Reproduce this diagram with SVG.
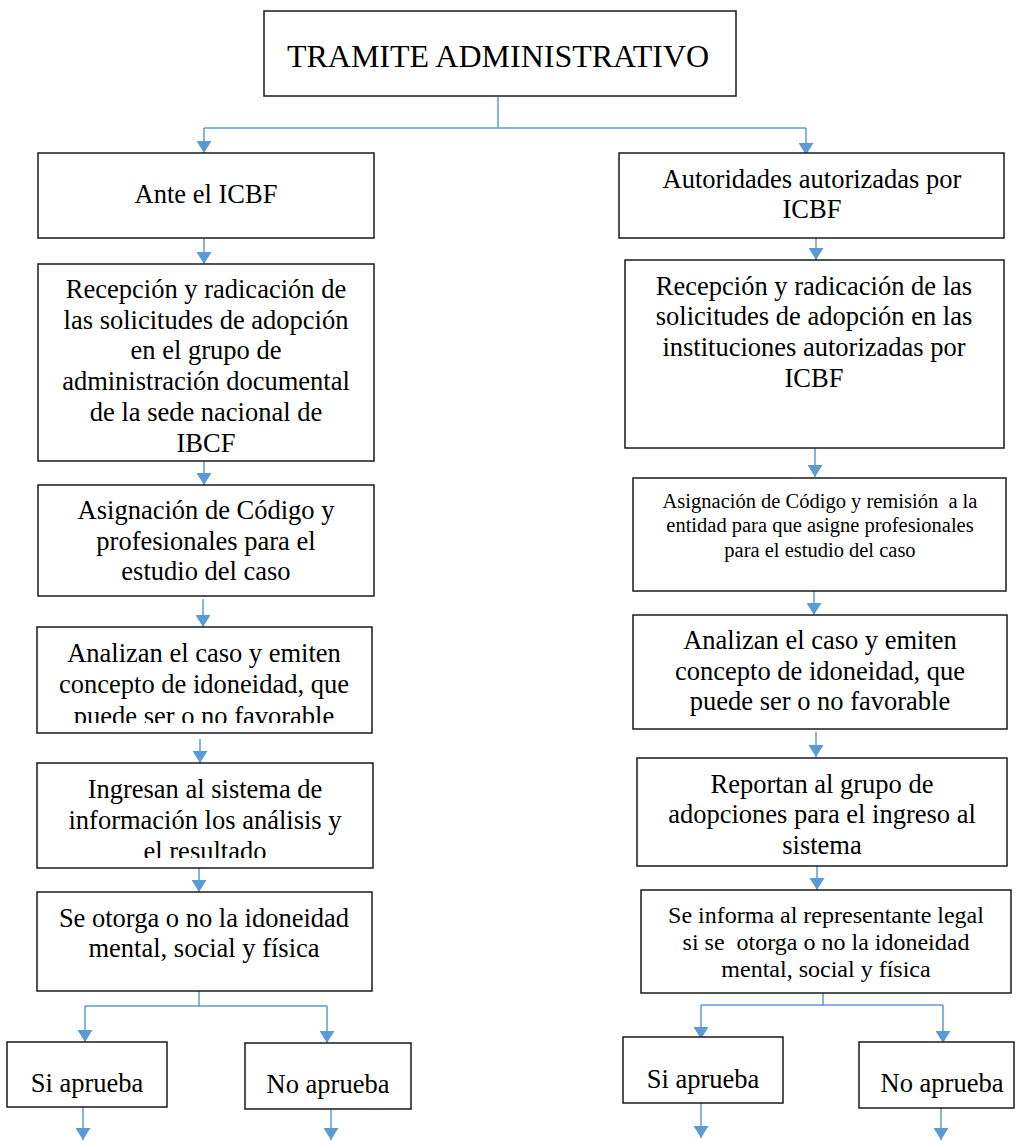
<svg xmlns="http://www.w3.org/2000/svg" width="1016" height="1140" viewBox="0 0 1016 1140">
<style>
.box{fill:#fff;stroke:#1a1a1a;stroke-width:1.5}
.t{font-family:"Liberation Serif","Times New Roman",serif;font-size:26.5px;fill:#000;text-anchor:middle}
.title{font-size:32px}
.sm{font-size:20.5px}
.md{font-size:24px}
.c{stroke:#5B9BD5;stroke-width:1.5;fill:none}
.a{stroke:#5B9BD5;stroke-width:1.5;fill:none;marker-end:url(#ah)}
</style>
<defs>
<marker id="ah" markerUnits="userSpaceOnUse" markerWidth="12" markerHeight="15" refX="12" refY="7.5" orient="auto" viewBox="0 0 12 15">
<path d="M0,0 L12,7.5 L0,15 z" fill="#5B9BD5"/>
</marker>
<clipPath id="clipA"><rect x="37" y="627" width="335" height="96"/></clipPath>
<clipPath id="clipI"><rect x="37" y="763" width="336" height="95"/></clipPath>
</defs>
<rect width="1016" height="1140" fill="#fff"/>

<g id="connectors">
<line class="c" x1="498" y1="97" x2="498" y2="128"/>
<line class="c" x1="204" y1="128" x2="806" y2="128"/>
<line class="a" x1="204" y1="128" x2="204" y2="153"/>
<line class="a" x1="806" y1="128" x2="806" y2="155"/>
<line class="a" x1="204" y1="238" x2="204" y2="264"/>
<line class="a" x1="204" y1="461" x2="204" y2="485"/>
<line class="a" x1="203" y1="599" x2="203" y2="627"/>
<line class="a" x1="200" y1="739" x2="200" y2="763"/>
<line class="a" x1="199" y1="868" x2="199" y2="892"/>
<line class="c" x1="199" y1="991" x2="199" y2="1006"/>
<line class="c" x1="85" y1="1006" x2="327" y2="1006"/>
<line class="a" x1="85" y1="1006" x2="85" y2="1042"/>
<line class="a" x1="327" y1="1006" x2="327" y2="1043"/>
<line class="a" x1="83" y1="1107" x2="83" y2="1140"/>
<line class="a" x1="331" y1="1109" x2="331" y2="1140"/>
<line class="a" x1="816" y1="238" x2="816" y2="260"/>
<line class="a" x1="815" y1="448" x2="815" y2="477"/>
<line class="a" x1="814" y1="591" x2="814" y2="615"/>
<line class="a" x1="816" y1="732" x2="816" y2="757"/>
<line class="a" x1="817" y1="866" x2="817" y2="890"/>
<line class="c" x1="823" y1="993" x2="823" y2="1006"/>
<line class="c" x1="701" y1="1005" x2="943" y2="1005"/>
<line class="a" x1="701" y1="1005" x2="701" y2="1039"/>
<line class="a" x1="943" y1="1005" x2="943" y2="1043"/>
<line class="a" x1="701" y1="1103" x2="701" y2="1138"/>
<line class="a" x1="941" y1="1108" x2="941" y2="1140"/>
</g>

<g id="n-title">
<rect class="box" x="264" y="11" width="472" height="85"/>
<text class="t title" x="498" y="67">TRAMITE ADMINISTRATIVO</text>
</g>

<g id="n-ante">
<rect class="box" x="38" y="153" width="336" height="85"/>
<text class="t" x="206" y="203">Ante el ICBF</text>
</g>

<g id="n-recepcion-l">
<rect class="box" x="38" y="264" width="336" height="197"/>
<text class="t" x="206" y="298">Recepción y radicación de</text>
<text class="t" x="206" y="329">las solicitudes de adopción</text>
<text class="t" x="206" y="359">en el grupo de</text>
<text class="t" x="206" y="390">administración documental</text>
<text class="t" x="206" y="421">de la sede nacional de</text>
<text class="t" x="206" y="452">IBCF</text>
</g>

<g id="n-asignacion-l">
<rect class="box" x="38" y="485" width="336" height="111"/>
<text class="t" x="206" y="519">Asignación de Código y</text>
<text class="t" x="206" y="550">profesionales para el</text>
<text class="t" x="206" y="580">estudio del caso</text>
</g>

<g id="n-analizan-l">
<rect class="box" x="37" y="627" width="335" height="106"/>
<g clip-path="url(#clipA)">
<text class="t" x="204" y="662">Analizan el caso y emiten</text>
<text class="t" x="204" y="693">concepto de idoneidad, que</text>
<text class="t" x="204" y="725">puede ser o no favorable</text>
</g>
</g>

<g id="n-ingresan">
<rect class="box" x="37" y="763" width="336" height="105"/>
<g clip-path="url(#clipI)">
<text class="t" x="205" y="798">Ingresan al sistema de</text>
<text class="t" x="205" y="829">información los análisis y</text>
<text class="t" x="205" y="860">el resultado</text>
</g>
</g>

<g id="n-otorga">
<rect class="box" x="37" y="892" width="335" height="99"/>
<text class="t" x="204" y="927">Se otorga o no la idoneidad</text>
<text class="t" x="204" y="957">mental, social y física</text>
</g>

<g id="n-si-l">
<rect class="box" x="7" y="1042" width="160" height="65"/>
<text class="t" x="87" y="1092">Si aprueba</text>
</g>

<g id="n-no-l">
<rect class="box" x="245" y="1043" width="166" height="66"/>
<text class="t" x="328" y="1093">No aprueba</text>
</g>

<g id="n-autoridades">
<rect class="box" x="619" y="153" width="385" height="85"/>
<text class="t" x="812" y="188">Autoridades autorizadas por</text>
<text class="t" x="812" y="218">ICBF</text>
</g>

<g id="n-recepcion-r">
<rect class="box" x="625" y="260" width="379" height="188"/>
<text class="t" x="814" y="295">Recepción y radicación de las</text>
<text class="t" x="814" y="325">solicitudes de adopción en las</text>
<text class="t" x="814" y="356">instituciones autorizadas por</text>
<text class="t" x="814" y="387">ICBF</text>
</g>

<g id="n-asignacion-r">
<rect class="box" x="633" y="478" width="373" height="113"/>
<text class="t sm" x="820" y="508" xml:space="preserve">Asignación de Código y remisión  a la</text>
<text class="t sm" x="820" y="532">entidad para que asigne profesionales</text>
<text class="t sm" x="820" y="557">para el estudio del caso</text>
</g>

<g id="n-analizan-r">
<rect class="box" x="633" y="615" width="374" height="114"/>
<text class="t" x="820" y="649">Analizan el caso y emiten</text>
<text class="t" x="820" y="680">concepto de idoneidad, que</text>
<text class="t" x="820" y="710">puede ser o no favorable</text>
</g>

<g id="n-reportan">
<rect class="box" x="637" y="758" width="370" height="108"/>
<text class="t" x="822" y="793">Reportan al grupo de</text>
<text class="t" x="822" y="823">adopciones para el ingreso al</text>
<text class="t" x="822" y="854">sistema</text>
</g>

<g id="n-informa">
<rect class="box" x="641" y="890" width="370" height="103"/>
<text class="t md" x="826" y="923">Se informa al representante legal</text>
<text class="t md" x="826" y="950" xml:space="preserve">si se  otorga o no la idoneidad</text>
<text class="t md" x="826" y="977">mental, social y física</text>
</g>

<g id="n-si-r">
<rect class="box" x="623" y="1037" width="160" height="66"/>
<text class="t" x="703" y="1088">Si aprueba</text>
</g>

<g id="n-no-r">
<rect class="box" x="859" y="1042" width="155" height="66"/>
<text class="t" x="942" y="1092">No aprueba</text>
</g>
</svg>
